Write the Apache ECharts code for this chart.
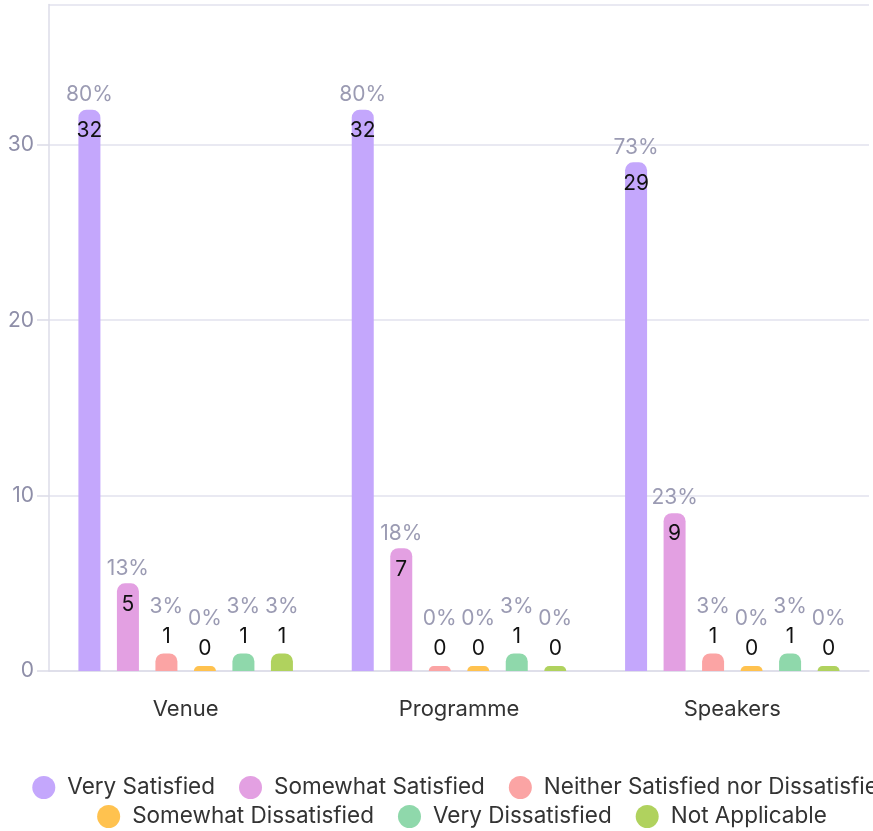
<!DOCTYPE html>
<html>
<head>
<meta charset="utf-8">
<script src="https://cdn.jsdelivr.net/npm/echarts@6/dist/echarts.min.js"></script>
<style>
  html, body { margin: 0; padding: 0; overflow: hidden; background: #fff; }
  #chart { width: 924px; height: 831px; }
</style>
</head>
<body>
<div id="chart"></div>
<script>
const categories = ['Venue', 'Programme', 'Speakers']
const levels = ['Very Satisfied', 'Somewhat Satisfied', 'Neither Satisfied nor Dissatisfied', 'Somewhat Dissatisfied', 'Very Dissatisfied', 'Not Applicable']
const colors = ['#c4a7fc', '#e3a0e2', '#fba4a4', '#ffc24f', '#8fd8ab', '#b0d25e']

// counts per level, one value per category
const verySatisfied = [32, 32, 29]
const somewhatSatisfied = [5, 7, 9]
const neither = [1, 0, 1]
const somewhatDissatisfied = [0, 0, 0]
const veryDissatisfied = [1, 1, 1]
const notApplicable = [1, 0, 0]

// percentages shown above each bar
const verySatisfiedPct = ['80%', '80%', '73%']
const somewhatSatisfiedPct = ['13%', '18%', '23%']
const neitherPct = ['3%', '0%', '3%']
const somewhatDissatisfiedPct = ['0%', '0%', '0%']
const veryDissatisfiedPct = ['3%', '3%', '3%']
const notApplicablePct = ['3%', '0%', '0%']

const counts = [verySatisfied, somewhatSatisfied, neither, somewhatDissatisfied, veryDissatisfied, notApplicable]
const pcts = [verySatisfiedPct, somewhatSatisfiedPct, neitherPct, somewhatDissatisfiedPct, veryDissatisfiedPct, notApplicablePct]

const FONT = 'Inter'

const itemLabel = (v, pct) => {
  const tall = v >= 3
  const lh = tall ? 36 : 30
  return {
    show: true,
    position: 'top',
    distance: 0,
    offset: [0, tall ? 39 : -2],
    formatter: () => '{p|' + pct + '}\n{c|' + v + '}',
    rich: {
      p: { color: '#9b9bb3', fontSize: 21, fontFamily: FONT, lineHeight: lh },
      c: { color: '#111', fontSize: 21, fontFamily: FONT, lineHeight: lh }
    }
  }
}

const series = levels.map((name, i) => ({
  name,
  type: 'bar',
  barWidth: 22,
  barGap: '75%',
  barMinHeight: 5,
  itemStyle: { color: colors[i], borderRadius: [8, 8, 0, 0] },
  data: counts[i].map((v, j) => ({ value: v, label: itemLabel(v, pcts[i][j]) }))
}))

const legendBase = {
  left: 'center',
  padding: 0,
  icon: 'circle',
  itemWidth: 23,
  itemHeight: 23,
  itemGap: 24,
  textStyle: { color: '#333', fontSize: 22.5, fontFamily: FONT, padding: [0, 0, 0, 7] }
}

const chart = echarts.init(document.getElementById('chart'))
chart.setOption({
  animation: false,
  color: colors,
  textStyle: { fontFamily: FONT },
  grid: { left: 49, right: 55, top: 4.5, bottom: 160, containLabel: false },
  legend: [
    Object.assign({}, legendBase, { top: 776, data: levels.slice(0, 3) }),
    Object.assign({}, legendBase, { top: 805, data: levels.slice(3) })
  ],
  xAxis: {
    type: 'category',
    data: categories,
    axisLine: { lineStyle: { color: '#dcdce8', width: 1.5 } },
    axisTick: { alignWithLabel: true, length: 11, lineStyle: { color: '#dcdce8', width: 1.5 } },
    axisLabel: { color: '#333', fontSize: 22, fontFamily: FONT, margin: 27 }
  },
  yAxis: {
    type: 'value',
    min: 0,
    max: 38,
    interval: 10,
    axisLine: { show: true, lineStyle: { color: '#dcdce8', width: 1.5 } },
    axisTick: { show: true, length: 12, lineStyle: { color: '#dcdce8', width: 1.5 } },
    axisLabel: { color: '#8e8ea8', fontSize: 21, fontFamily: FONT, margin: 15, showMaxLabel: false },
    splitLine: { lineStyle: { color: '#e2e2ee', width: 1.5 } }
  },
  series
})
</script>
</body>
</html>
